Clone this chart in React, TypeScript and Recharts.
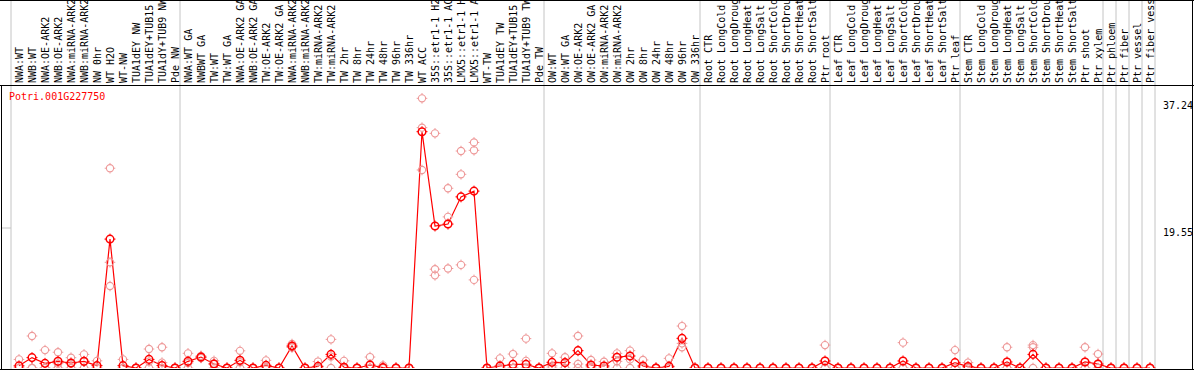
import React from 'react';
import { ComposedChart, Line, XAxis, YAxis, ReferenceLine } from 'recharts';

const labels: string[] = [
  'NWA:WT', 'NWB:WT', 'NWA:OE-ARK2', 'NWB:OE-ARK2', 'NWA:miRNA-ARK2', 'NWB:miRNA-ARK2', 'NW 0hr', 'WT H2O', 'WT-NW', 'TUA1dEY NW', 'TUA1dEY+TUB15', 'TUA1dY+TUB9 NW', 'Pde NW',
  'NWA:WT GA', 'NWBWT GA', 'TW:WT', 'TW:WT GA', 'NWA:OE-ARK2 GA', 'NWB:OE-ARK2 GA', 'TW:OE-ARK2', 'TW:OE-ARK2 GA', 'NWA:miRNA-ARK2', 'NWB:miRNA-ARK2', 'TW:miRNA-ARK2', 'TW:miRNA-ARK2', 'TW 2hr', 'TW 8hr', 'TW 24hr', 'TW 48hr', 'TW 96hr', 'TW 336hr', 'WT ACC', '35S::etr1-1 H2O', '35S::etr1-1 ACC', 'LMX5::etr1-1 H2O', 'LMX5::etr1-1 ACC', 'WT-TW', 'TUA1dEY TW', 'TUA1dEY+TUB15', 'TUA1dY+TUB9 TW', 'Pde TW',
  'OW:WT', 'OW:WT GA', 'OW:OE-ARK2', 'OW:OE-ARK2 GA', 'OW:miRNA-ARK2', 'OW:miRNA-ARK2', 'OW 2hr', 'OW 8hr', 'OW 24hr', 'OW 48hr', 'OW 96hr', 'OW 336hr',
  'Root CTR', 'Root LongCold', 'Root LongDrought', 'Root LongHeat', 'Root LongSalt', 'Root ShortCold', 'Root ShortDrought', 'Root ShortHeat', 'Root ShortSalt', 'Ptr root',
  'Leaf CTR', 'Leaf LongCold', 'Leaf LongDrought', 'Leaf LongHeat', 'Leaf LongSalt', 'Leaf ShortCold', 'Leaf ShortDrought', 'Leaf ShortHeat', 'Leaf ShortSalt', 'Ptr leaf',
  'Stem CTR', 'Stem LongCold', 'Stem LongDrought', 'Stem LongHeat', 'Stem LongSalt', 'Stem ShortCold', 'Stem ShortDrought', 'Stem ShortHeat', 'Stem ShortSalt', 'Ptr shoot', 'Ptr xylem',
  'Ptr phloem', 'Ptr fiber', 'Ptr vessel', 'Ptr fiber vessel',
];

// index of first category of each group (vertical separators)
const groupStarts: number[] = [0, 13, 41, 53, 63, 73, 84, 85, 86, 87];

const means: number[] = [
  0.3, 1.45, 0.65, 0.93, 0.7, 0.93, 0.33, 18.0, 0.33, 0, 1.2, 0.35, 0,
  0.93, 1.53, 0.56, 0, 1.07, 0, 0.37, 0, 3.07, 0, 0.23, 1.9, 0.1, 0, 0.42, 0.05, 0, 0, 33.0, 19.83, 20.1, 23.9, 24.7, 0, 0.28, 0.5, 0.5, 0,
  0.79, 0.75, 2.42, 0.42, 0.28, 1.5, 1.68, 0.28, 0, 0.23, 4.14, 0,
  0, 0, 0, 0, 0, 0, 0, 0, 0, 0.98,
  0, 0, 0, 0, 0, 0.98, 0, 0, 0, 0.75,
  0.2, 0, 0, 0.84, 0, 1.9, 0, 0, 0, 0.84, 0.56,
  0, 0, 0, 0,
];

const rep1: number[] = [
  1.2, 4.47, 2.5, 2.2, 1.44, 1.9, 1.0, 27.9, 1.2, 0, 2.65, 2.9, 0,
  2.05, 1.7, 1.0, 0, 2.4, 0, 1.07, 0, 3.35, 0, 0.9, 4.0, 1.0, 0, 1.53, 0.37, 0, 0, 37.66, 32.77, 25.1, 30.3, 31.5, 0, 1.35, 1.95, 4.1, 0,
  2.05, 1.5, 4.47, 1.12, 0.88, 2.05, 2.42, 1.12, 0, 1.35, 5.86, 0,
  0, 0, 0, 0, 0, 0, 0, 0, 0, 3.2,
  0, 0, 0, 0, 0, 3.54, 0, 0, 0, 2.5,
  0.75, 0, 0, 2.9, 0, 3.2, 0, 0, 0, 2.9, 1.95,
  0, 0, 0, 0,
];

const rep2: number[] = [
  0, 0, 0, 0.6, 0.6, 0.9, 0, 14.76, 0, 0, 0.9, 0.75, 0,
  0.7, 1.5, 0.6, 0, 0.8, 0, 0, 0, 2.9, 0, 0, 1.6, 0, 0, 0, 0, 0, 0, 33.56, 13.8, 21.1, 27.05, 30.4, 0, 0, 0, 1.0, 0,
  0.3, 0.75, 0.56, 0.2, 0, 0.93, 1.2, 0, 0, 0, 3.44, 0,
  0, 0, 0, 0, 0, 0, 0, 0, 0, 0,
  0, 0, 0, 0, 0, 0, 0, 0, 0, 0,
  0, 0, 0, 0, 0, 2.9, 0, 0, 0, 0, 0.5,
  0, 0, 0, 0,
];

const rep3: number[] = [
  0, 0, 0, 0, 0, 0, 0, 11.45, 0, 0, 0, 0, 0,
  0, 1.4, 0, 0, 0, 0, 0, 0, 2.9, 0, 0, 0, 0, 0, 0, 0, 0, 0, 27.65, 12.94, 13.9, 14.4, 12.3, 0, 0, 0, 0, 0,
  0, 0, 0, 0, 0, 0, 0, 0, 0, 0, 2.9, 0,
  0, 0, 0, 0, 0, 0, 0, 0, 0, 0,
  0, 0, 0, 0, 0, 0, 0, 0, 0, 0,
  0, 0, 0, 0, 0, 0, 0, 0, 0, 0, 0,
  0, 0, 0, 0,
];

const yTicks: number[] = [0, 19.55, 37.24];
const yMax = 39.38;
const title = 'Potri.001G227750';

const data = labels.map((name, i) => ({
  key: `c${i}`,
  name,
  mean: means[i],
  r1: rep1[i],
  r2: rep2[i],
  r3: rep3[i],
}));

const RED = '#ff0000';
const PINK = '#ee9999';
const GRID = '#c4c4c4';
const FONT = '"DejaVu Sans Mono", "Liberation Mono", monospace';
const W = 1194;
const H = 370;
const SHIFT = 1.5; // separators sit 1.5px left of the band edges

function Marker(props: any) {
  const { cx, cy, color, r, sw } = props;
  if (cx == null || cy == null || isNaN(cx) || isNaN(cy)) return null;
  const t = r + 1.7;
  return (
    <g>
      <circle cx={cx} cy={cy} r={r} fill="none" stroke={color} strokeWidth={sw} />
      <line x1={cx} y1={cy - r} x2={cx} y2={cy - t} stroke={color} strokeWidth={1} />
      <line x1={cx} y1={cy + r} x2={cx} y2={cy + t} stroke={color} strokeWidth={1} />
      <line x1={cx - r} y1={cy} x2={cx - t} y2={cy} stroke={color} strokeWidth={1} />
      <line x1={cx + r} y1={cy} x2={cx + t} y2={cy} stroke={color} strokeWidth={1} />
    </g>
  );
}

const pinkDot = (p: any) => <Marker key={`p${p.dataKey}${p.index}`} cx={p.cx} cy={p.cy} color={PINK} r={3.6} sw={1.1} />;
const redDot = (p: any) => <Marker key={`m${p.index}`} cx={p.cx} cy={p.cy} color={RED} r={3.8} sw={1.5} />;

const CatTick = (p: any) => {
  const idx = parseInt(String(p.payload.value).slice(1), 10);
  return (
    <text
      transform={`translate(${p.x + 3.5},83) rotate(-90)`}
      fontSize={10}
      fontFamily={FONT}
      fill="#000"
      textAnchor="start"
    >
      {labels[idx]}
    </text>
  );
};

const ValTick = (p: any) => {
  const v = p.payload.value;
  const yy = v === 0 ? p.y - 2 : p.y + 8;
  return (
    <text x={1163} y={yy} fontSize={10} fontFamily={FONT} fill="#000" textAnchor="start">
      {String(v)}
    </text>
  );
};

const VLine = (p: any) => (
  <line x1={p.x1 - SHIFT} y1={0} x2={p.x2 - SHIFT} y2={p.y2 + 1} stroke={GRID} strokeWidth={1} />
);

const HGrid = (p: any) => (
  <line x1={2} y1={p.y1} x2={p.x2 - SHIFT} y2={p.y2} stroke={GRID} strokeWidth={1} />
);

const Frame = (p: any) => {
  const yb = p.y1 + 1.5;
  return (
    <g>
      <line x1={0} y1={0.5} x2={W} y2={0.5} stroke="#000" strokeWidth={1} />
      <line x1={0} y1={85.5} x2={W} y2={85.5} stroke="#000" strokeWidth={1} />
      <line x1={1.5} y1={85} x2={1.5} y2={yb} stroke="#000" strokeWidth={1} />
      <line x1={W - 1.5} y1={0} x2={W - 1.5} y2={yb} stroke="#000" strokeWidth={1} />
      <line x1={0} y1={yb} x2={W} y2={yb} stroke="#000" strokeWidth={1} />
      <text x={9} y={100} fill={RED} fontSize={10} fontFamily={FONT}>{title}</text>
    </g>
  );
};

export default function App() {
  return (
    <div style={{ position: 'absolute', left: 0, top: 0, width: W, height: H, background: '#fff' }}>
      <style>{'body{margin:0}'}</style>
      <ComposedChart width={W} height={H} data={data} margin={{ top: 0, right: 0, bottom: 2, left: 11 + SHIFT }}>
        <XAxis
          dataKey="key"
          type="category"
          scale="band"
          orientation="top"
          height={86}
          interval={0}
          axisLine={false}
          tickLine={false}
          tick={CatTick}
          allowDuplicatedCategory={false}
        />
        <YAxis
          type="number"
          orientation="right"
          width={39 - SHIFT}
          domain={[0, yMax]}
          ticks={yTicks}
          axisLine={false}
          tickLine={false}
          tick={ValTick}
          allowDataOverflow
        />
        {groupStarts.map((g) => (
          <ReferenceLine key={`v${g}`} x={`c${g}`} position="start" shape={VLine} ifOverflow="visible" />
        ))}
        <ReferenceLine x={`c${labels.length - 1}`} position="end" shape={VLine} ifOverflow="visible" />
        <ReferenceLine y={yTicks[1]} shape={HGrid} ifOverflow="visible" />
        <ReferenceLine y={0} shape={Frame} ifOverflow="visible" />
        <Line dataKey="r3" stroke="none" dot={pinkDot} activeDot={false} isAnimationActive={false} />
        <Line dataKey="r2" stroke="none" dot={pinkDot} activeDot={false} isAnimationActive={false} />
        <Line dataKey="r1" stroke="none" dot={pinkDot} activeDot={false} isAnimationActive={false} />
        <Line dataKey="mean" stroke={RED} strokeWidth={1.2} dot={redDot} activeDot={false} isAnimationActive={false} />
      </ComposedChart>
    </div>
  );
}
